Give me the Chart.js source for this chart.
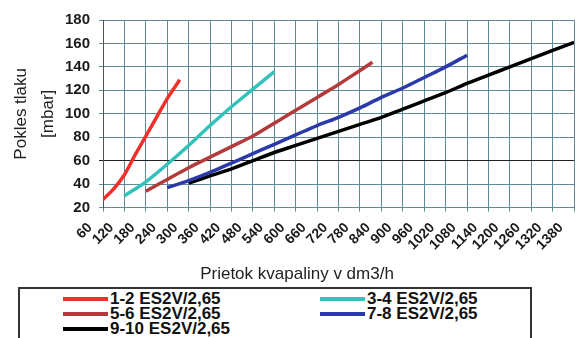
<!DOCTYPE html>
<html>
<head>
<meta charset="utf-8">
<script src="https://cdn.jsdelivr.net/npm/chart.js@4.4.1/dist/chart.umd.min.js"></script>
<style>
  html, body { margin: 0; padding: 0; width: 576px; height: 338px; overflow: hidden; background: #fff; }
  #wrap { position: absolute; left: 0; top: 0; width: 594px; height: 287px; }
  #legend { position: absolute; left: 18px; top: 287px; width: 514px; height: 70px; border: 2px solid #333; box-sizing: border-box; }
  .item { position: absolute; height: 15px; font: bold 17px "Liberation Sans", Arial, sans-serif; color: #111; line-height: 15px; white-space: nowrap; }
  .item span.sw { display: inline-block; width: 45px; height: 4px; vertical-align: middle; margin-right: 2px; position: relative; top: -1px; }
</style>
</head>
<body>
<div id="wrap"><canvas id="chart"></canvas></div>
<div id="legend"></div>
<script>
// osi
const flowTicks = [60, 120, 180, 240, 300, 360, 420, 480, 540, 600, 660, 720, 780, 840, 900, 960, 1020, 1080, 1140, 1200, 1260, 1320, 1380];
const pressureTicks = [20, 40, 60, 80, 100, 120, 140, 160, 180];

const seriesLabels = ['1-2 ES2V/2,65', '3-4 ES2V/2,65', '5-6 ES2V/2,65', '7-8 ES2V/2,65', '9-10 ES2V/2,65'];
const seriesColors = ['#f2302b', '#33c2b9', '#b23b3b', '#2b3aa8', '#000000'];

// prietok (dm3/h) a pokles tlaku (mbar) pre kazdy ventil
const flow12 = [60, 90, 120, 150, 180, 210, 240, 275];
const drop12 = [27, 36, 48, 65, 81, 97, 113, 129];

const flow34 = [120, 180, 240, 300, 360, 420, 480, 540];
const drop34 = [30, 42, 57, 73, 90, 106, 121, 136];

const flow56 = [180, 240, 300, 360, 420, 480, 540, 600, 660, 720, 780, 815];
const drop56 = [34, 44, 54, 63, 72, 81, 92, 103, 114, 125, 137, 144];

const flow78 = [240, 300, 360, 420, 480, 540, 600, 660, 720, 780, 840, 900, 960, 1020, 1080];
const drop78 = [37, 43, 50, 58, 66, 74, 82, 90, 97, 105, 114, 122, 131, 140, 150];

const flow910 = [300, 360, 420, 480, 540, 600, 660, 720, 780, 840, 900, 960, 1020, 1080, 1140, 1200, 1260, 1320, 1380];
const drop910 = [41, 47, 53, 60, 67, 73, 79, 85, 91, 97, 104, 111, 118, 126, 133, 140, 147, 154, 161];

const flows = [flow12, flow34, flow56, flow78, flow910];
const drops = [drop12, drop34, drop56, drop78, drop910];

function pairs(xs, ys) {
    return xs.map((x, i) => ({ x: x, y: ys[i] }));
}

const gridColor = '#5f8a96';
const tickFont = { family: '"Liberation Sans", Arial, sans-serif', size: 15, weight: 'bold' };
const titleFont = { family: '"Liberation Sans Narrow", "Liberation Sans", sans-serif', size: 17, weight: 'normal' };

const ctx = document.getElementById('chart').getContext('2d');
const chart = new Chart(ctx, {
    type: 'line',
    data: {
        datasets: seriesLabels.map((label, i) => ({
            label: label,
            data: pairs(flows[i], drops[i]),
            borderColor: seriesColors[i],
            backgroundColor: seriesColors[i],
            borderWidth: 3.5,
            pointRadius: 0,
            cubicInterpolationMode: 'monotone',
            fill: false
        }))
    },
    options: {
        responsive: true,
        maintainAspectRatio: false,
        animation: false,
        layout: { padding: { top: 20, right: 0, left: 0, bottom: 0 } },
        plugins: {
            legend: { display: false },
            tooltip: { enabled: false },
            title: {
                display: true,
                position: 'bottom',
                text: 'Prietok kvapaliny v dm3/h',
                font: titleFont,
                color: '#222',
                padding: { top: 0, bottom: 2 }
            }
        },
        scales: {
            x: {
                type: 'linear',
                min: 60,
                max: 1380,
                afterBuildTicks: axis => { axis.ticks = flowTicks.map(v => ({ value: v })); },
                afterFit: scale => { scale.height = 57; },
                grid: { color: gridColor, lineWidth: 1, tickLength: 4 },
                border: { color: gridColor },
                ticks: {
                    autoSkip: false,
                    minRotation: 45,
                    maxRotation: 45,
                    labelOffset: -13,
                    padding: 8,
                    color: '#1a1a1a',
                    font: { ...tickFont, size: 14 },
                    callback: v => String(v)
                }
            },
            y: {
                min: 20,
                max: 180,
                afterBuildTicks: axis => { axis.ticks = pressureTicks.map(v => ({ value: v })); },
                afterFit: scale => { scale.width = 103; },
                grid: {
                    color: c => (c.tick && c.tick.value === 60 ? '#222' : gridColor),
                    lineWidth: 1,
                    tickLength: 4
                },
                border: { color: '#555' },
                ticks: { padding: 9, color: '#1a1a1a', font: tickFont },
                title: {
                    display: true,
                    text: ['Pokles tlaku', '[mbar]'],
                    font: { ...titleFont, lineHeight: 1.6 },
                    color: '#222',
                    padding: { top: 8, bottom: 0 }
                }
            }
        }
    }
});

// legenda v ramceku, dva stlpce
const legend = document.getElementById('legend');
chart.data.datasets.forEach((ds, i) => {
    const col = i % 2;
    const row = Math.floor(i / 2);
    const el = document.createElement('div');
    el.className = 'item';
    el.style.left = (col === 0 ? 43 : 300) + 'px';
    el.style.top = (2 + row * 15) + 'px';
    const sw = document.createElement('span');
    sw.className = 'sw';
    sw.style.background = ds.borderColor;
    el.appendChild(sw);
    el.appendChild(document.createTextNode(ds.label));
    legend.appendChild(el);
});
</script>
</body>
</html>
